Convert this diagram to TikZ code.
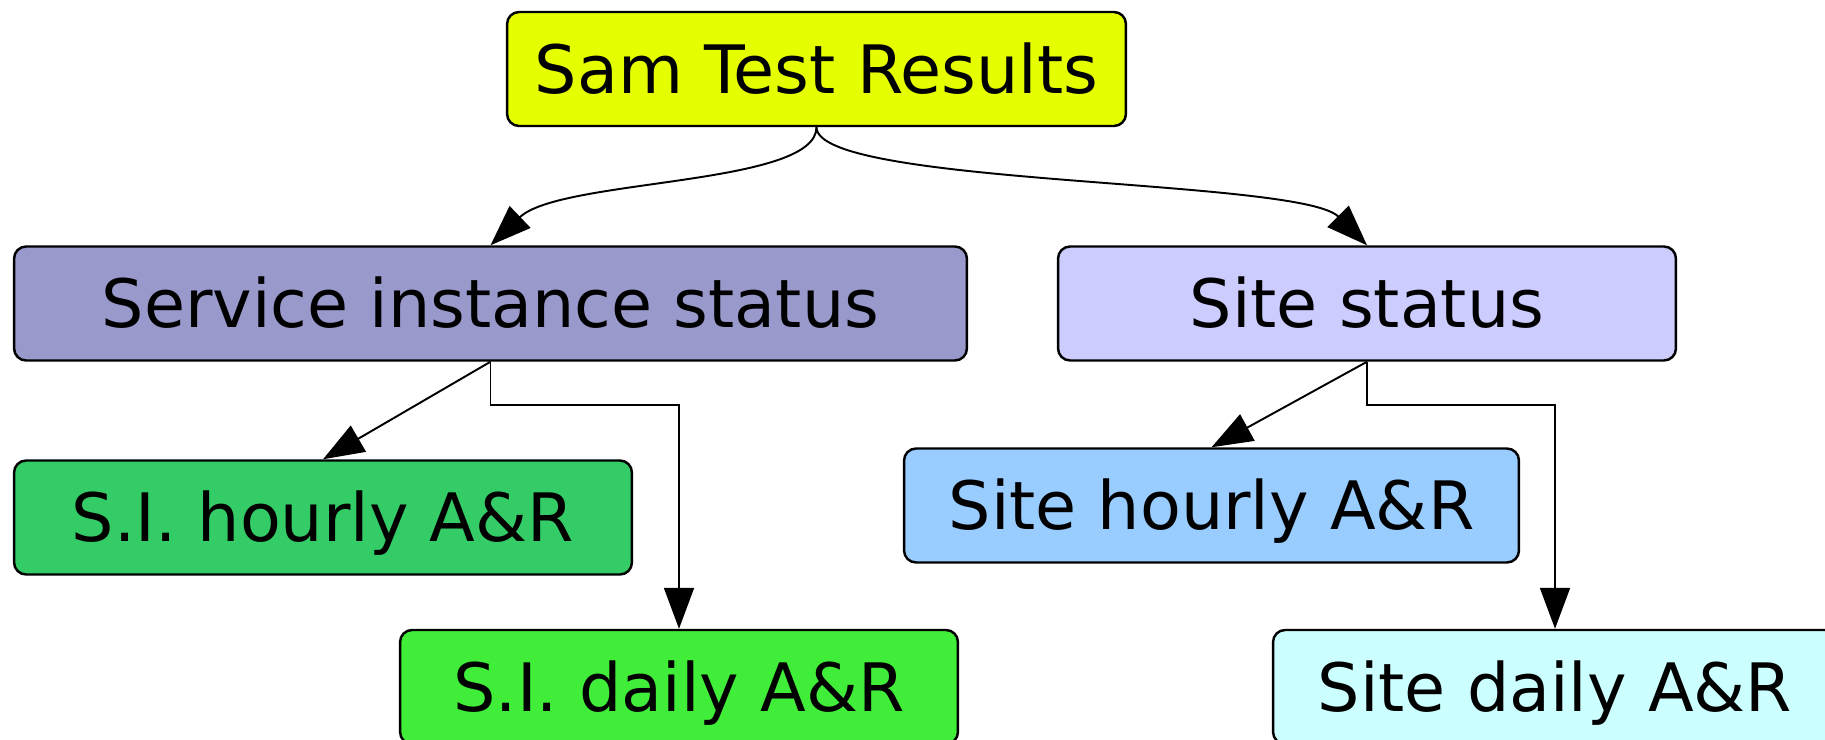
\documentclass[tikz,border=0pt]{standalone}
\usepackage{fontspec}
\setmainfont{DejaVu Sans}
\usetikzlibrary{positioning, arrows.meta}

\definecolor{samyellow}{RGB}{230,255,0}
\definecolor{sislav}{RGB}{153,153,204}
\definecolor{sitelav}{RGB}{204,204,255}
\definecolor{sihgreen}{RGB}{51,204,102}
\definecolor{sidgreen}{RGB}{64,238,58}
\definecolor{sthblue}{RGB}{153,204,255}
\definecolor{stdcyan}{RGB}{204,255,255}

\tikzset{
  box/.style={draw, line width=1.4pt, rounded corners=0.24cm, minimum height=2.28cm,
    inner sep=0pt, font=\fontsize{38}{46}\selectfont, text height=27.7pt, text depth=0pt},
  edge/.style={-{Triangle[length=0.82cm, width=0.6cm]}, line width=1.1pt}
}

\begin{document}
\begin{tikzpicture}[x=0.02cm, y=-0.02cm]
    \useasboundingbox (0,0) rectangle (1825,740);
    \node[box, fill=samyellow, minimum width=12.38cm] (SAM) at (816.5,69) {Sam Test Results};
    \node[box, fill=sislav, minimum width=19.06cm] (SIS) at (490.5,303.5) {Service instance status};
    \node[box, fill=sitelav, minimum width=12.36cm] (SITE) at (1367,303.5) {Site status};
    \node[box, fill=sihgreen, minimum width=12.36cm] (SIH) at (323,517.5) {S.I. hourly A\&R};
    \node[box, fill=sidgreen, minimum width=11.16cm] (SID) at (679,687) {S.I. daily A\&R};
    \node[box, fill=sthblue, minimum width=12.3cm] (STH) at (1211.5,505.5) {Site hourly A\&R};
    \node[box, fill=stdcyan, minimum width=11.28cm] (STD) at (1555,687) {Site daily A\&R};
    \draw[edge] (SAM.south) .. controls +(0,59) and +(70,-67) .. (SIS.north);
    \draw[edge] (SAM.south) .. controls +(0,59) and +(-67,-67) .. (SITE.north);
    \draw[edge] (SIS.south) -- (SIH.north);
    \draw[edge] (SIS.south) -- ++(0,43) -| (SID.north);
    \draw[edge] (SITE.south) -- (STH.north);
    \draw[edge] (SITE.south) -- ++(0,43) -| (STD.north);
  \end{tikzpicture}
\end{document}
